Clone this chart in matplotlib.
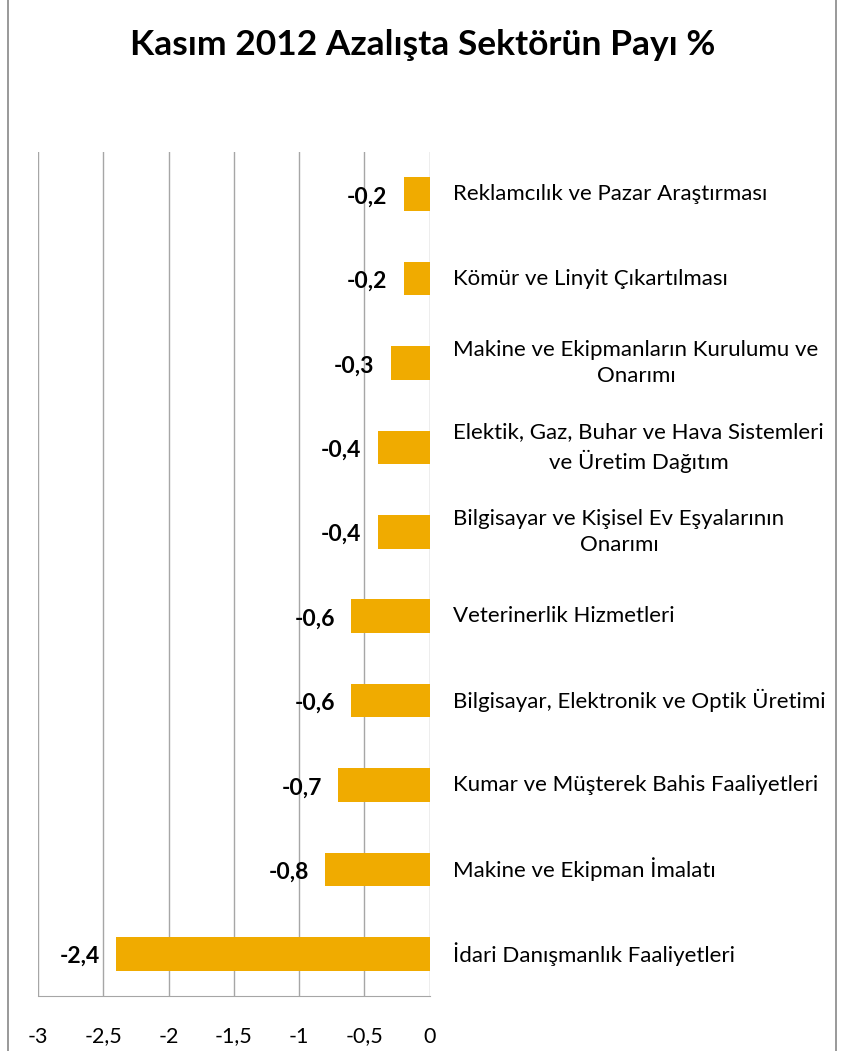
import matplotlib.pyplot as plt
from matplotlib.lines import Line2D

plt.rcParams['font.family'] = ['Lato', 'DejaVu Sans']

# categories top to bottom
sectors = [
    'Reklamcılık ve Pazar Araştırması',
    'Kömür ve Linyit Çıkartılması',
    'Makine ve Ekipmanların Kurulumu ve\nOnarımı',
    'Elektik, Gaz, Buhar ve Hava Sistemleri\nve Üretim Dağıtım',
    'Bilgisayar ve Kişisel Ev Eşyalarının\nOnarımı',
    'Veterinerlik Hizmetleri',
    'Bilgisayar, Elektronik ve Optik Üretimi',
    'Kumar ve Müşterek Bahis Faaliyetleri',
    'Makine ve Ekipman İmalatı',
    'İdari Danışmanlık Faaliyetleri',
]
shares = [-0.2, -0.2, -0.3, -0.4, -0.4, -0.6, -0.6, -0.7, -0.8, -2.4]
xticks = [-3, -2.5, -2, -1.5, -1, -0.5, 0]

fig = plt.figure(figsize=(8.46, 10.51), dpi=100)
ax = fig.add_axes([0.045, 0.0523, 0.463, 0.8031])

ypos = list(range(len(sectors)))
ax.barh(ypos, shares, height=0.4, color='#F0AB00', zorder=3)
ax.set_ylim(len(sectors) - 0.5, -0.5)
ax.set_xlim(-3, 0)
ax.set_xticks(xticks)
ax.set_xticklabels([str(t).replace('.', ',') for t in xticks], fontsize=15.5)
ax.set_yticks([])
ax.tick_params(axis='x', length=0, pad=22)
ax.grid(axis='x', color='#A6A6A6', linewidth=1, zorder=0)
for s in ['top', 'left', 'right']:
    ax.spines[s].set_visible(False)
ax.spines['bottom'].set_color('#A6A6A6')

for y, v, name in zip(ypos, shares, sectors):
    ax.annotate(str(v).replace('.', ','), (v, y), xytext=(-12, -2),
                textcoords='offset points', ha='right', va='center',
                fontsize=16.5, fontweight='bold')
    ax.annotate(name, (0, y), xytext=(17, 0), textcoords='offset points',
                ha='left', va='center', multialignment='center',
                fontsize=16, linespacing=1.4, annotation_clip=False)

fig.text(0.5, 0.957, 'Kasım 2012 Azalışta Sektörün Payı %', ha='center',
         va='center', fontsize=25.5, fontweight='bold')

fig.add_artist(Line2D([0.009, 0.009], [0, 1], color='#888888', lw=1.2))
fig.add_artist(Line2D([0.988, 0.988], [0, 1], color='#888888', lw=1.2))

fig.savefig('out.png', dpi=100)
